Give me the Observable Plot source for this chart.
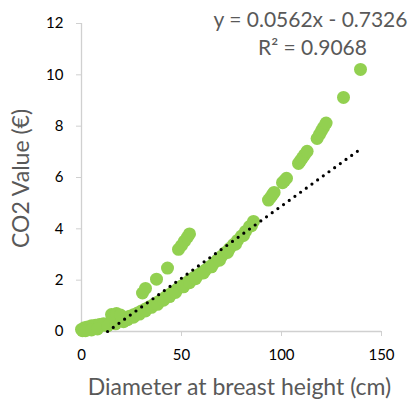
<!DOCTYPE html>
<html>
<head>
<meta charset="utf-8">
<script src="https://cdn.jsdelivr.net/npm/d3@7"></script>
<script src="https://cdn.jsdelivr.net/npm/@observablehq/plot@0.6"></script>
<style>
  html, body { margin: 0; padding: 0; background: #fff; }
  #chart { width: 411px; height: 403px; }
</style>
</head>
<body>
<div id="chart"></div>
<script>
// Main dense band of trees (DBH cm, CO2 value €)
const dbhMain = [0, 2, 4, 6, 8, 10, 12, 14, 16, 18, 20, 22, 24, 26, 28, 30, 32, 34, 36, 38, 40, 42, 44, 46, 48, 50, 52, 54, 56, 58, 60, 62, 64, 66, 68, 70, 72, 74, 76, 78, 80, 82, 84, 86];
const co2Main = [0.08, 0.1, 0.13, 0.16, 0.2, 0.24, 0.28, 0.32, 0.37, 0.42, 0.47, 0.53, 0.59, 0.65, 0.72, 0.8, 0.88, 0.96, 1.05, 1.14, 1.24, 1.34, 1.44, 1.55, 1.66, 1.77, 1.88, 1.99, 2.09, 2.19, 2.29, 2.4, 2.52, 2.65, 2.79, 2.93, 3.08, 3.23, 3.39, 3.55, 3.72, 3.9, 4.09, 4.29];
// Extra spread within the band
const dbhSpread = [0.5, 1.5, 3, 5, 7, 9, 11, 2, 5, 8, 13, 17, 21, 23, 26, 29, 32, 35, 38, 41, 44, 47, 51, 54, 57, 61, 65, 69, 73, 77, 81, 85];
const co2Spread = [0.03, 0.15, 0.18, 0.22, 0.24, 0.27, 0.3, 0.03, 0.06, 0.1, 0.22, 0.3, 0.38, 0.46, 0.56, 0.68, 0.8, 0.94, 1.06, 1.22, 1.36, 1.52, 1.74, 1.9, 2.06, 2.28, 2.52, 2.78, 3.08, 3.4, 3.74, 4.12];
// Upper branch (outliers)
const dbhHigh = [15, 17.5, 19.5, 30.5, 32, 37.5, 43, 48.5, 50, 51.5, 53, 54];
const co2High = [0.66, 0.7, 0.64, 1.5, 1.68, 2.04, 2.47, 3.2, 3.35, 3.52, 3.68, 3.8];
// Large trees
const dbhLarge = [93.5, 94.5, 95.5, 96.3, 100.5, 101.5, 102.5, 108.5, 109.5, 110.5, 111.5, 112.8, 117.8, 119, 120, 121, 122.3, 131, 139.5];
const co2Large = [5.12, 5.22, 5.33, 5.42, 5.8, 5.88, 5.97, 6.55, 6.66, 6.77, 6.88, 7.02, 7.52, 7.68, 7.82, 7.95, 8.12, 9.12, 10.21];
// Linear trendline endpoints (clipped at y = 0)
const trendX = [13.04, 139.5];
const trendY = [0, 7.11];
// Tick labels
const xTicks = [0, 50, 100, 150];
const yTicks = [0, 2, 4, 6, 8, 10, 12];
const eqText = "y = 0.0562x - 0.7326";
const r2Text = "R² = 0.9068";
const xTitle = "Diameter at breast height (cm)";
const yTitle = "CO2 Value (€)";

const pts = [];
[[dbhMain, co2Main], [dbhSpread, co2Spread], [dbhHigh, co2High], [dbhLarge, co2Large]].forEach(([xs, ys]) => {
  xs.forEach((x, i) => pts.push({x, y: ys[i]}));
});
const trend = trendX.map((x, i) => ({x, y: trendY[i]}));

const font = "Lato, 'Open Sans', sans-serif";
const gray = "#595959";
const axisGray = "#d0d0d0";

const chart = Plot.plot({
  width: 411,
  height: 403,
  marginLeft: 81,
  marginRight: 30,
  marginTop: 23,
  marginBottom: 72,
  style: {fontFamily: font, fontSize: "15px", color: "#000", background: "#fff", overflow: "visible"},
  x: {domain: [0, 150]},
  y: {domain: [0, 12]},
  marks: [
    Plot.ruleX([0], {stroke: axisGray, strokeWidth: 1.3}),
    Plot.ruleY([0], {stroke: axisGray, strokeWidth: 1.3}),
    Plot.axisX({ticks: xTicks, tickSize: 5, tickPadding: 13, stroke: axisGray, label: null, fontSize: 15}),
    Plot.axisY({ticks: yTicks, tickSize: 5, tickPadding: 13, stroke: axisGray, label: null, fontSize: 15}),
    Plot.dot(pts, {x: "x", y: "y", r: 6.5, fill: "#92d050", stroke: "none"}),
    Plot.line(trend, {x: "x", y: "y", stroke: "#000", strokeWidth: 3.2, strokeDasharray: "0 7", strokeLinecap: "round"}),
    Plot.text([eqText], {frameAnchor: "top-right", text: d => d, textAnchor: "middle", lineAnchor: "middle", fill: gray, fontSize: 21, dx: -71, dy: -3}),
    Plot.text([r2Text], {frameAnchor: "top-right", text: d => d, textAnchor: "middle", lineAnchor: "middle", fill: gray, fontSize: 21, dx: -69, dy: 25}),
    Plot.text([xTitle], {frameAnchor: "bottom", text: d => d, textAnchor: "middle", lineAnchor: "middle", fill: gray, fontSize: 23, dx: 8, dy: 56}),
    Plot.text([yTitle], {frameAnchor: "left", text: d => d, textAnchor: "middle", lineAnchor: "middle", fill: gray, fontSize: 23, dx: -60, dy: 1, rotate: -90})
  ]
});
document.getElementById("chart").appendChild(chart);
</script>
</body>
</html>
